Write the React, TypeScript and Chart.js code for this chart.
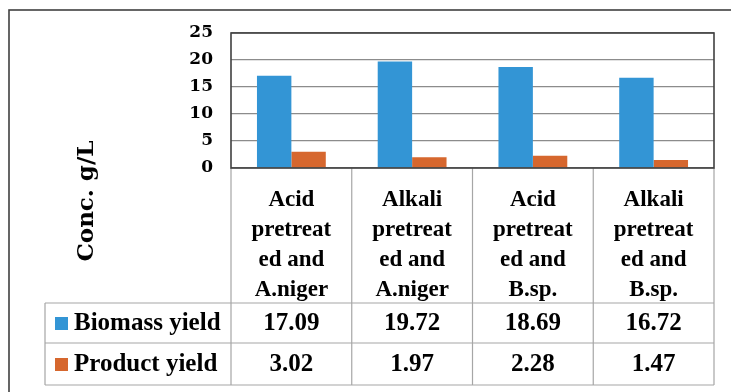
import React, { useEffect, useRef } from "react";
import { Chart, registerables } from "chart.js";

Chart.register(...registerables);

const categories: string[][] = [
  ["Acid", "pretreat", "ed and", "A.niger"],
  ["Alkali", "pretreat", "ed and", "A.niger"],
  ["Acid", "pretreat", "ed and", "B.sp."],
  ["Alkali", "pretreat", "ed and", "B.sp."],
];
const biomassYield: number[] = [17.09, 19.72, 18.69, 16.72];
const productYield: number[] = [3.02, 1.97, 2.28, 1.47];
const seriesNames: string[] = ["Biomass yield", "Product yield"];
const seriesColors: string[] = ["#3395D5", "#D6672E"];
const yTicks: number[] = [0, 5, 10, 15, 20, 25];
const yTitle = "Conc. g/L";

const W = 731;
const H = 392;
const PAD_LEFT = 9;
const PAD_TOP = 33;
const PAD_RIGHT = 17;
const PAD_BOTTOM = 23;
const TITLE_FONT = 23;
const TITLE_PAD = 64;
const PLOT_LEFT = 231;
const PLOT_BOTTOM = 168;
const TABLE_LEFT = 45;
const ROW_TOPS = [303, 343];
const ROW_BOTTOM = 385;
const SERIF = '"Liberation Serif", "DejaVu Serif", serif';
const TITLE_SERIF = '"DejaVu Serif", serif';

const tablePlugin = {
  id: "dataTable",
  beforeDraw(chart: any) {
    const ctx = chart.ctx;
    ctx.save();
    ctx.fillStyle = "#ffffff";
    ctx.fillRect(0, 0, W, H);
    ctx.restore();
  },
  afterDraw(chart: any) {
    const ctx = chart.ctx;
    const area = chart.chartArea;
    const x = chart.scales.x;
    const n = categories.length;
    const bounds: number[] = [];
    for (let i = 0; i <= n; i++) bounds.push(x.getPixelForValue(i - 0.5));
    ctx.save();
    ctx.strokeStyle = "#a6a6a6";
    ctx.lineWidth = 1.2;
    ctx.beginPath();
    for (let i = 1; i <= n; i++) {
      ctx.moveTo(bounds[i], area.bottom);
      ctx.lineTo(bounds[i], ROW_BOTTOM);
    }
    ctx.moveTo(area.left, area.bottom);
    ctx.lineTo(area.left, ROW_BOTTOM);
    ctx.moveTo(TABLE_LEFT, ROW_TOPS[0]);
    ctx.lineTo(TABLE_LEFT, ROW_BOTTOM);
    for (const yy of [...ROW_TOPS, ROW_BOTTOM]) {
      ctx.moveTo(TABLE_LEFT, yy);
      ctx.lineTo(bounds[n], yy);
    }
    ctx.stroke();
    ctx.strokeStyle = "#404040";
    ctx.lineWidth = 1.6;
    ctx.strokeRect(area.left, area.top, area.right - area.left, area.bottom - area.top);
    ctx.strokeRect(9, 10, W + 40, H + 40);
    const rows = [biomassYield, productYield];
    ctx.textBaseline = "middle";
    rows.forEach((vals, r) => {
      const top = ROW_TOPS[r];
      const bottom = r + 1 < ROW_TOPS.length ? ROW_TOPS[r + 1] : ROW_BOTTOM;
      const cy = (top + bottom) / 2 + 1;
      ctx.fillStyle = seriesColors[r];
      ctx.fillRect(55, cy - 7, 13, 13);
      ctx.fillStyle = "#000";
      ctx.font = `bold 25px ${SERIF}`;
      ctx.textAlign = "left";
      ctx.fillText(seriesNames[r], 74, cy);
      ctx.textAlign = "center";
      vals.forEach((v, i) => {
        ctx.fillText(v.toFixed(2), x.getPixelForValue(i), cy);
      });
    });
    ctx.restore();
  },
};

export default function App() {
  const ref = useRef<HTMLCanvasElement | null>(null);
  useEffect(() => {
    if (!ref.current) return;
    const titleBox = TITLE_FONT * 1.2 + TITLE_PAD;
    const yWidth = PLOT_LEFT - PAD_LEFT - titleBox;
    const xHeight = H - PAD_BOTTOM - PLOT_BOTTOM;
    const chart = new Chart(ref.current, {
      type: "bar",
      data: {
        labels: categories as any,
        datasets: [
          { label: seriesNames[0], data: biomassYield, backgroundColor: seriesColors[0] },
          { label: seriesNames[1], data: productYield, backgroundColor: seriesColors[1] },
        ],
      },
      options: {
        responsive: false,
        animation: false,
        devicePixelRatio: 1,
        layout: { padding: { left: PAD_LEFT, top: PAD_TOP, right: PAD_RIGHT, bottom: PAD_BOTTOM } },
        datasets: { bar: { categoryPercentage: 0.57, barPercentage: 1.0 } },
        plugins: {
          legend: { display: false },
          tooltip: { enabled: false },
          title: {
            display: true,
            position: "left",
            text: yTitle,
            color: "#000",
            font: { family: TITLE_SERIF, size: TITLE_FONT, weight: "bold" },
            padding: { top: TITLE_PAD, bottom: 0 },
          },
        },
        scales: {
          x: {
            grid: { display: false },
            border: { display: false },
            ticks: {
              color: "#000",
              font: { family: SERIF, size: 23, weight: "bold", lineHeight: "30px" },
              padding: 9,
              maxRotation: 0,
              autoSkip: false,
            },
            afterFit: (s: any) => {
              s.height = xHeight;
            },
          },
          y: {
            min: 0,
            max: 25,
            afterBuildTicks: (s: any) => {
              s.ticks = yTicks.map((v) => ({ value: v }));
            },
            grid: { color: "#8c8c8c", lineWidth: 1.2, drawTicks: false },
            border: { display: false },
            ticks: {
              color: "#000",
              font: { family: TITLE_SERIF, size: 17, weight: "bold" },
              padding: 18,
            },
            afterFit: (s: any) => {
              s.width = yWidth;
            },
          },
        },
      },
      plugins: [tablePlugin],
    });
    return () => chart.destroy();
  }, []);
  return (
    <div style={{ position: "fixed", left: 0, top: 0, width: W, height: H, background: "#fff" }}>
      <canvas ref={ref} width={W} height={H} style={{ display: "block", width: W, height: H }} />
    </div>
  );
}
